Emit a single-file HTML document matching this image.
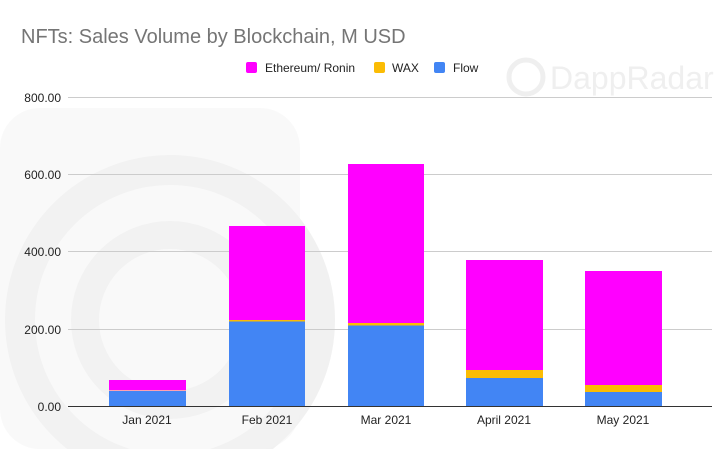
<!DOCTYPE html>
<html><head><style>
body{margin:0;background:#fff;}
svg text{font-family:"Liberation Sans",Arial,sans-serif;}
</style></head><body>
<svg width="726" height="449" viewBox="0 0 726 449" xmlns="http://www.w3.org/2000/svg">
<rect width="726" height="449" fill="#fff"/>
<!-- watermark -->
<g fill="none" stroke="#f1f1f1">
<path d="M60 150 Q40 110 100 110 L190 110 Q230 110 250 150 L320 290 Q340 330 320 370 L260 449" stroke-width="0" />
<circle cx="170" cy="320" r="150" stroke-width="30"/>
<circle cx="170" cy="320" r="85" stroke-width="28"/>
</g>
<rect x="0" y="108" width="300" height="341" rx="40" fill="#f3f3f3" opacity="0.5"/>
<g opacity="0.9">
<circle cx="526" cy="77" r="17" fill="none" stroke="#eee" stroke-width="5"/>
<text x="550" y="89" font-size="32" fill="#eeeeee">DappRadar</text>
</g>
<text x="21" y="43" font-size="20" fill="#757575">NFTs: Sales Volume by Blockchain, M USD</text>
<rect x="246" y="62" width="11" height="11" rx="2" fill="#ff00ff"/>
<text x="265" y="72" font-size="12" fill="#222">Ethereum/ Ronin</text>
<rect x="374" y="62" width="11" height="11" rx="2" fill="#fbbc04"/>
<text x="392" y="72" font-size="12" fill="#222">WAX</text>
<rect x="434" y="62" width="11" height="11" rx="2" fill="#4285f4"/>
<text x="453" y="72" font-size="12" fill="#222">Flow</text>
<g stroke="#ccc" stroke-width="1">
<line x1="68" y1="97.5" x2="712" y2="97.5"/>
<line x1="68" y1="174.5" x2="712" y2="174.5"/>
<line x1="68" y1="251.5" x2="712" y2="251.5"/>
<line x1="68" y1="329.5" x2="712" y2="329.5"/>
</g>
<g font-size="12" fill="#222" text-anchor="end">
<text x="61" y="102">800.00</text>
<text x="61" y="179">600.00</text>
<text x="61" y="256">400.00</text>
<text x="61" y="334">200.00</text>
<text x="61" y="411">0.00</text>
</g>
<!-- bars -->
<rect x="109" y="380" width="77" height="11" fill="#ff00ff"/>
<rect x="109" y="390" width="77" height="1" fill="#ffa0b0"/>
<rect x="109" y="391" width="77" height="16" fill="#4285f4"/>
<rect x="229" y="226" width="76" height="95" fill="#ff00ff"/>
<rect x="229" y="320" width="76" height="1.5" fill="#fbbc04"/>
<rect x="229" y="321.5" width="76" height="85" fill="#4285f4"/>
<rect x="348" y="164" width="76" height="159" fill="#ff00ff"/>
<rect x="348" y="323" width="76" height="2.5" fill="#fbbc04"/>
<rect x="348" y="325.5" width="76" height="81" fill="#4285f4"/>
<rect x="466" y="260" width="77" height="110" fill="#ff00ff"/>
<rect x="466" y="370" width="77" height="8" fill="#fbbc04"/>
<rect x="466" y="378" width="77" height="29" fill="#4285f4"/>
<rect x="585" y="271" width="77" height="114" fill="#ff00ff"/>
<rect x="585" y="385" width="77" height="7" fill="#fbbc04"/>
<rect x="585" y="392" width="77" height="15" fill="#4285f4"/>
<line x1="68" y1="406.5" x2="712" y2="406.5" stroke="#333" stroke-width="1"/>
<g font-size="12" fill="#222" text-anchor="middle">
<text x="147" y="424">Jan 2021</text>
<text x="267" y="424">Feb 2021</text>
<text x="386" y="424">Mar 2021</text>
<text x="504" y="424">April 2021</text>
<text x="623" y="424">May 2021</text>
</g>
</svg>
</body></html>
